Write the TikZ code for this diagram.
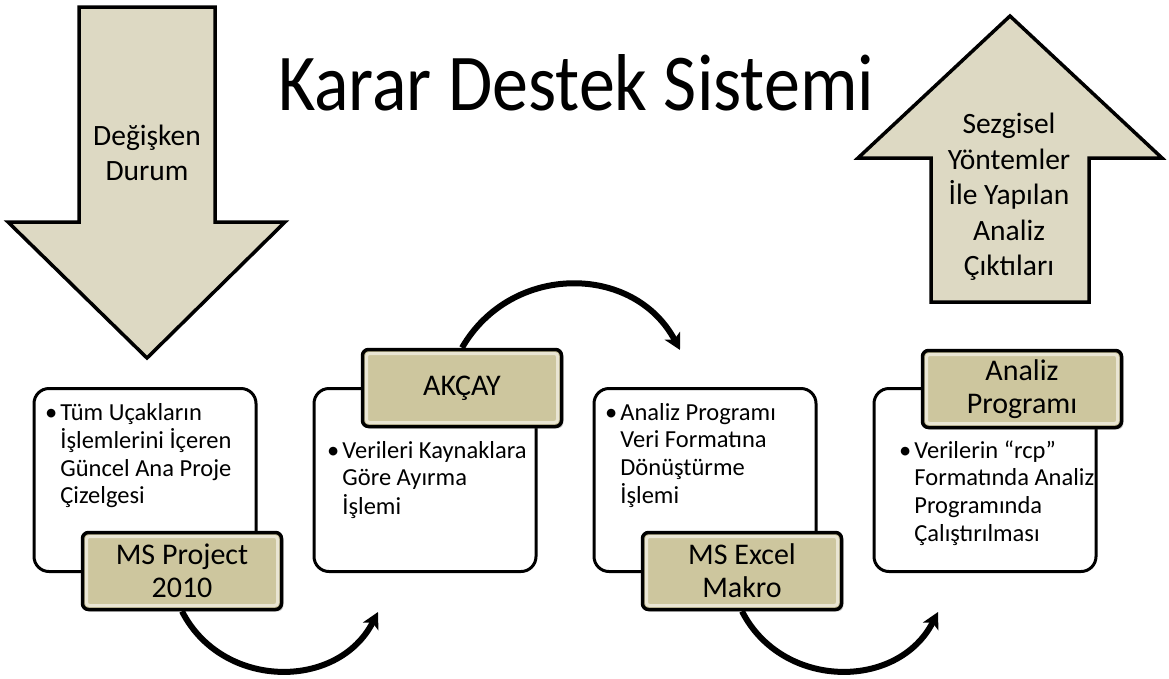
\documentclass[tikz,border=0pt]{standalone}
\usepackage{fontspec}
\setmainfont{Carlito}
\usetikzlibrary{arrows.meta,shadows}

\definecolor{tanfill}{RGB}{221,217,195}
\definecolor{tagfill}{RGB}{205,198,158}

\newcommand{\itemlines}[1]{\begin{tabular}[t]{@{}l@{\hspace{3pt}}l@{}}#1\end{tabular}}

\begin{document}
\begin{tikzpicture}[x=1pt, y=1pt,
    bigarrow/.style={draw, line width=3.5pt, fill=tanfill, line join=miter},
    bigtext/.style={align=center, inner sep=0pt, font=\fontsize{29.5}{35.5}\selectfont},
    stage/.style={draw, rectangle, rounded corners=15pt, line width=3pt, fill=white,
                  minimum width=222pt, minimum height=183pt},
    tag/.style={draw, rectangle, rounded corners=6pt, line width=3.5pt, fill=tagfill,
                minimum width=199pt, minimum height=77pt, align=center,
                font=\fontsize{30}{33}\selectfont,
                drop shadow={shadow xshift=2pt, shadow yshift=-2pt, opacity=0.35},
                path picture={\draw[tagfill!45!white, line width=3pt, rounded corners=3pt]
                  ([shift={(4pt,4pt)}]path picture bounding box.south west) rectangle
                  ([shift={(-4pt,-4pt)}]path picture bounding box.north east);}},
    items/.style={anchor=base west, inner sep=0pt, align=left,
                  font=\fontsize{24.5}{27.7}\selectfont},
    flow/.style={line width=6pt, -{Stealth[length=16pt, width=17pt, inset=4pt]}}]

    \path[use as bounding box] (0,0) rectangle (1169,-678);

    % title
    \node[font=\fontsize{72}{80}\selectfont, anchor=base, yscale=1.12] (title) at (576,-110) {Karar Destek Sistemi};

    % big arrows
    \draw[bigarrow] (79,-7) -- (215,-7) -- (215,-222) -- (285,-222) -- (147,-358)
        -- (8,-222) -- (79,-222) -- cycle;
    \node[bigtext] (change) at (147,-153) {Değişken\\Durum};

    \draw[bigarrow] (1010,-16) -- (1162,-158) -- (1089,-158) -- (1089,-302)
        -- (931,-302) -- (931,-158) -- (858,-158) -- cycle;
    \node[bigtext] (output) at (1009,-197) {Sezgisel\\Yöntemler\\İle Yapılan\\Analiz\\Çıktıları};

    % stages
    \node[stage] (box1) at (145,-480) {};
    \node[stage] (box2) at (425,-480) {};
    \node[stage] (box3) at (705,-480) {};
    \node[stage] (box4) at (985,-480) {};

    \node[items] (txt1) at (45,-420) {\itemlines{\textbullet & Tüm Uçakların\\ & İşlemlerini İçeren\\ & Güncel Ana Proje\\ & Çizelgesi}};
    \node[items] (txt2) at (327,-458) {\itemlines{\textbullet & Verileri Kaynaklara\\ & Göre Ayırma\\ & İşlemi}};
    \node[items] (txt3) at (605,-420) {\itemlines{\textbullet & Analiz Programı\\ & Veri Formatına\\ & Dönüştürme\\ & İşlemi}};
    \node[items] (txt4) at (899,-458) {\itemlines{\textbullet & Verilerin “rcp”\\ & Formatında Analiz\\ & Programında\\ & Çalıştırılması}};

    \node[tag] (tag1) at (182,-571) {MS Project\\2010};
    \node[tag] (tag2) at (462,-388) {AKÇAY};
    \node[tag] (tag3) at (742,-571) {MS Excel\\Makro};
    \node[tag] (tag4) at (1022,-389) {Analiz\\Programı};

    % connectors
    \coordinate (end1) at (378,-612);
    \coordinate (end2) at (680,-350);
    \coordinate (end3) at (938,-612);
    \draw[flow] (tag1.south) to[out=-63, in=-117, looseness=1.15] (end1);
    \draw[flow] (tag2.north) to[out=60, in=118, looseness=1.15] (end2);
    \draw[flow] (tag3.south) to[out=-63, in=-117, looseness=1.15] (end3);
\end{tikzpicture}
\end{document}
